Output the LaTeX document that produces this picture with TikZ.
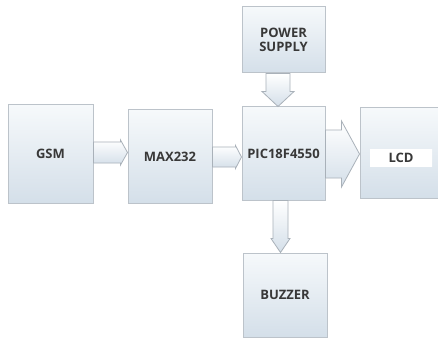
\documentclass[tikz,border=0pt]{standalone}
\usepackage{fontspec}
\setsansfont{Open Sans}
\usetikzlibrary{calc}
\definecolor{box-top}{HTML}{F6F9FB}
\definecolor{box-bottom}{HTML}{D4DFE9}
\definecolor{box-edge}{HTML}{BCC3CA}
\definecolor{arrow-edge}{HTML}{A9B1B9}
\definecolor{label-text}{HTML}{383838}

\tikzset{
  block/.style={draw=box-edge, line width=1pt, top color=box-top, bottom color=box-bottom,
    font=\sffamily\bfseries\fontsize{13}{16}\selectfont, text=label-text, align=center},
  fatarrow/.style={draw=arrow-edge, line width=0.8pt, top color=white, bottom color=box-bottom}
}

% block arrows: tail, tip, shaft half width, head half width, head length
\newcommand{\fatright}[5]{%
  \draw[fatarrow] ($(#1)+(0,-#3)$) -- ($(#2)+(-#5,-#3)$) -- ($(#2)+(-#5,-#4)$)
    -- (#2) -- ($(#2)+(-#5,#4)$) -- ($(#2)+(-#5,#3)$) -- ($(#1)+(0,#3)$) -- cycle;}
\newcommand{\fatdown}[5]{%
  \draw[fatarrow] ($(#1)+(-#3,0)$) -- ($(#2)+(-#3,-#5)$) -- ($(#2)+(-#4,-#5)$)
    -- (#2) -- ($(#2)+(#4,-#5)$) -- ($(#2)+(#3,-#5)$) -- ($(#1)+(#3,0)$) -- cycle;}

\begin{document}
\begin{tikzpicture}[x=1pt, y=-1pt]
  \useasboundingbox[fill=white] (0,0) rectangle (438,339);

  \node[block, minimum width=85pt, minimum height=98pt] (gsm) at (50.5,154) {GSM};
  \node[block, minimum width=84pt, minimum height=93pt] (max) at (170,156.5) {MAX232};
  \node[block, minimum width=83pt, minimum height=93pt, inner xsep=1pt] (pic) at (283.5,153.5) {PIC18F4550};
  \node[block, minimum width=85pt, minimum height=90pt] (lcd) at (402.5,153) {};
  \node[block, fill=white, draw=none, minimum width=62pt, minimum height=17pt, inner sep=0pt,
    top color=white, bottom color=white] (lcdtext) at (401,158) {LCD};
  \node[block, minimum width=83pt, minimum height=66pt] (power) at (283.5,40) {POWER\\[-2pt]SUPPLY};
  \node[block, minimum width=84pt, minimum height=84pt] (buzzer) at (285,295) {BUZZER};

  % arrow ends
  \coordinate (gsm-out) at ($(gsm.east)+(0,-1.5)$);
  \coordinate (max-in) at (max.west |- gsm-out);
  \coordinate (max-out) at ($(max.east)+(0,0.5)$);
  \coordinate (pic-in) at (pic.west |- max-out);
  \coordinate (pic-out) at ($(pic.east)+(0,0.5)$);
  \coordinate (lcd-in) at (lcd.west |- pic-out);
  \coordinate (power-out) at ($(power.south)+(-5.5,0)$);
  \coordinate (pic-top) at (power-out |- pic.north);
  \coordinate (pic-bot) at ($(pic.south)+(-3,0)$);
  \coordinate (buzzer-in) at (pic-bot |- buzzer.north);

  \fatright{gsm-out}{max-in}{10.5}{12.5}{7}
  \fatright{max-out}{pic-in}{10}{11.5}{6}
  \fatright{pic-out}{lcd-in}{24}{33}{18}
  \fatdown{power-out}{pic-top}{12}{16}{15}
  \fatdown{pic-bot}{buzzer-in}{7.5}{9.5}{14}
\end{tikzpicture}
\end{document}
